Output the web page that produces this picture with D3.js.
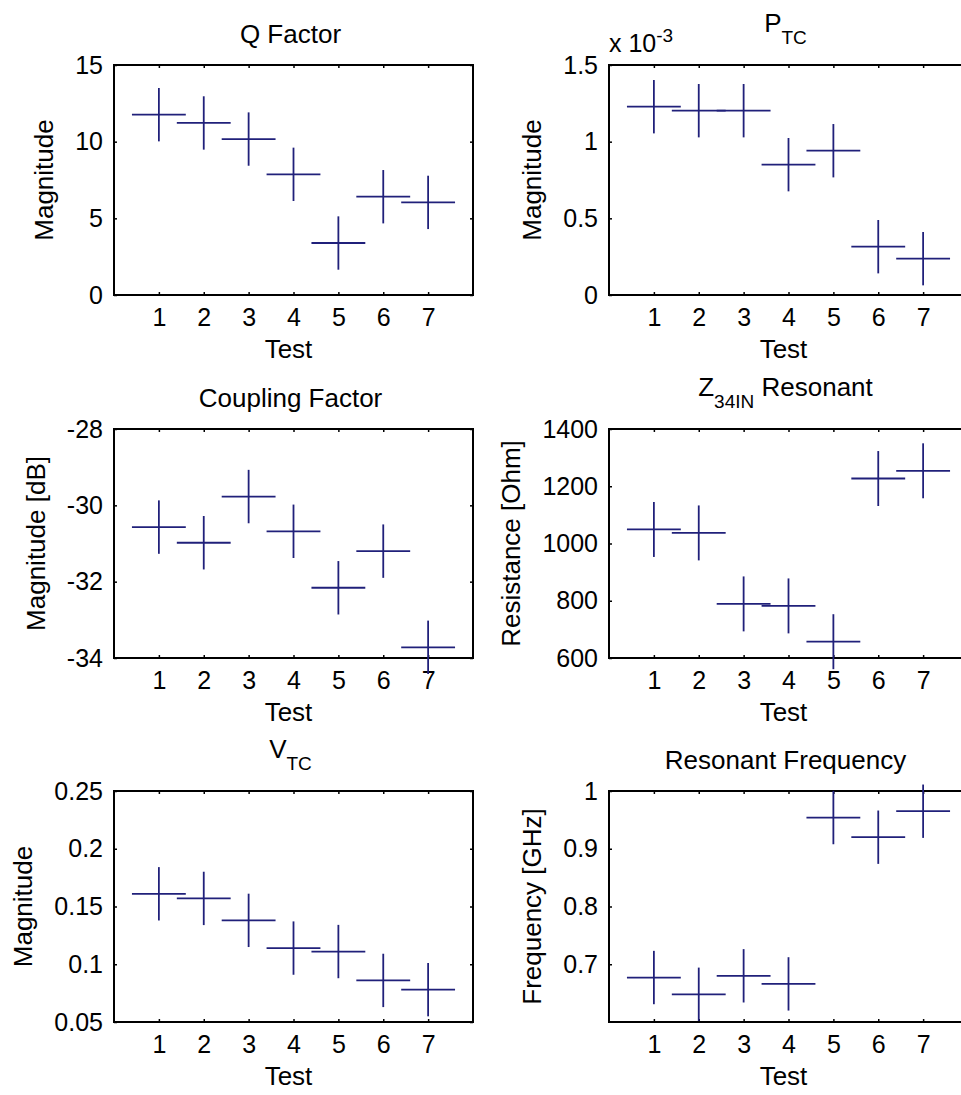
<!DOCTYPE html>
<html>
<head>
<meta charset="utf-8">
<script src="https://cdn.jsdelivr.net/npm/d3@7"></script>
<style>
    body, html {
        margin: 0;
        padding: 0;
        background: #fff;
    }
    text {
        font-family: "Liberation Sans", Arial, sans-serif;
        fill: #000;
    }
</style>
</head>
<body>
<div id="chart"></div>
<script>

// test numbers along x
var tests = [1, 2, 3, 4, 5, 6, 7];
var xErr = 0.6;

// Q Factor
var qFactor = [11.76, 11.22, 10.17, 7.87, 3.39, 6.41, 6.04];
var qErr = 1.74;
var qTicks = [0, 5, 10, 15];

// P_TC (x 10^-3)
var pTC = [1.228e-3, 1.202e-3, 1.202e-3, 0.850e-3, 0.941e-3, 0.315e-3, 0.237e-3];
var pErr = 0.174e-3;
var pTicks = [0, 0.5e-3, 1e-3, 1.5e-3];

// Coupling Factor [dB]
var coupling = [-30.57, -30.98, -29.77, -30.68, -32.16, -31.20, -33.72];
var cErr = 0.70;
var cTicks = [-34, -32, -30, -28];

// Z34IN resonant resistance [Ohm]
var z34in = [1049, 1037, 789, 782, 657, 1227, 1254];
var zErr = 96;
var zTicks = [600, 800, 1000, 1200, 1400];

// V_TC
var vTC = [0.161, 0.157, 0.138, 0.114, 0.111, 0.086, 0.078];
var vErr = 0.0231;
var vTicks = [0.05, 0.1, 0.15, 0.2, 0.25];

// Resonant Frequency [GHz]
var resFreq = [0.677, 0.648, 0.680, 0.666, 0.954, 0.920, 0.965];
var fErr = 0.0462;
var fTicks = [0.7, 0.8, 0.9, 1];

var panels = [
    {col: 0, row: 0, title: "Q Factor", ylabel: "Magnitude", domain: [0, 15], ticks: qTicks, values: qFactor, err: qErr},
    {col: 1, row: 0, title: "P", sub: "TC", ylabel: "Magnitude", domain: [0, 1.5e-3], ticks: pTicks, values: pTC, err: pErr, scale: 1e-3},
    {col: 0, row: 1, title: "Coupling Factor", ylabel: "Magnitude [dB]", domain: [-34, -28], ticks: cTicks, values: coupling, err: cErr},
    {col: 1, row: 1, title: "Z", sub: "34IN", rest: " Resonant", ylabel: "Resistance [Ohm]", domain: [600, 1400], ticks: zTicks, values: z34in, err: zErr},
    {col: 0, row: 2, title: "V", sub: "TC", ylabel: "Magnitude", domain: [0.05, 0.25], ticks: vTicks, values: vTC, err: vErr},
    {col: 1, row: 2, title: "Resonant Frequency", ylabel: "Frequency [GHz]", domain: [0.6, 1], ticks: fTicks, values: resFreq, err: fErr}
];

var W = 961, H = 1095;
var colLeft = [114, 609];
var boxW = 359;
var rowTop = [65, 429, 791];
var rowBottom = [295, 658, 1022];
var lineColor = "#20207a";

var svg = d3.select("#chart")
    .append("svg")
    .attr("width", W)
    .attr("height", H);

panels.forEach(function(p) {
    var left = colLeft[p.col];
    var top = rowTop[p.row];
    var height = rowBottom[p.row] - top;
    var width = boxW;

    var g = svg.append("g")
        .attr("transform", "translate(" + left + "," + top + ")");

    var x = d3.scaleLinear().domain([0, 8]).range([0, width]);
    var y = d3.scaleLinear().domain(p.domain).range([height, 0]);

    var fmt = function(v) {
        var s = p.scale ? v / p.scale : v;
        return String(+s.toFixed(6));
    };

    // axes with inward ticks
    var xb = g.append("g")
        .attr("transform", "translate(0," + height + ")")
        .call(d3.axisBottom(x).tickValues(tests).tickSize(-3).tickPadding(13));
    var xt = g.append("g")
        .call(d3.axisTop(x).tickValues(tests).tickSize(-3).tickFormat(""));
    var yl = g.append("g")
        .call(d3.axisLeft(y).tickValues(p.ticks).tickSize(-3).tickPadding(11).tickFormat(fmt));
    var yr = g.append("g")
        .attr("transform", "translate(" + width + ",0)")
        .call(d3.axisRight(y).tickValues(p.ticks).tickSize(-3).tickFormat(""));

    [xb, xt, yl, yr].forEach(function(a) {
        a.select(".domain").remove();
        a.selectAll(".tick line").attr("stroke", "#000").attr("stroke-width", 1.5);
        a.selectAll("text").attr("font-size", 25).attr("font-family", null).attr("fill", "#000");
    });

    g.append("rect")
        .attr("x", 0)
        .attr("y", 0)
        .attr("width", width)
        .attr("height", height)
        .attr("fill", "none")
        .attr("stroke", "#000")
        .attr("stroke-width", 2);

    // crosses
    var pts = g.append("g")
        .selectAll("g")
        .data(p.values)
        .enter()
        .append("g");

    pts.append("line")
        .attr("x1", function(d, i) { return x(tests[i] - xErr); })
        .attr("x2", function(d, i) { return x(tests[i] + xErr); })
        .attr("y1", function(d) { return y(d); })
        .attr("y2", function(d) { return y(d); })
        .attr("stroke", lineColor)
        .attr("stroke-width", 1.8);

    pts.append("line")
        .attr("x1", function(d, i) { return x(tests[i]); })
        .attr("x2", function(d, i) { return x(tests[i]); })
        .attr("y1", function(d) { return y(d - p.err); })
        .attr("y2", function(d) { return y(d + p.err); })
        .attr("stroke", lineColor)
        .attr("stroke-width", 1.8);

    // title
    var cx = width / 2 - 3;
    if (p.sub) {
        var t = g.append("text")
            .attr("x", cx)
            .attr("y", -33)
            .attr("text-anchor", "middle")
            .attr("font-size", 26);
        t.append("tspan").text(p.title);
        t.append("tspan").attr("dy", 12).attr("font-size", 19).text(p.sub);
        if (p.rest) {
            t.append("tspan").attr("dy", -12).text(p.rest);
        }
    } else {
        g.append("text")
            .attr("x", cx)
            .attr("y", -22)
            .attr("text-anchor", "middle")
            .attr("font-size", 26)
            .text(p.title);
    }

    // exponent label
    if (p.scale) {
        var e = g.append("text")
            .attr("x", 0)
            .attr("y", -13)
            .attr("font-size", 25);
        e.append("tspan").text("x 10");
        e.append("tspan").attr("dy", -10).attr("font-size", 19).text("-3");
    }

    // x label
    g.append("text")
        .attr("x", width / 2 - 5)
        .attr("y", height + 63)
        .attr("text-anchor", "middle")
        .attr("font-size", 26)
        .text("Test");

    // y label placed from widest tick label
    var maxW = 0;
    yl.selectAll("text").each(function() {
        maxW = Math.max(maxW, this.getComputedTextLength());
    });
    var lx = -11 - maxW - 22;
    g.append("text")
        .attr("transform", "translate(" + lx + "," + (height / 2) + ") rotate(-90)")
        .attr("text-anchor", "middle")
        .attr("font-size", 26)
        .text(p.ylabel);
});

</script>
</body>
</html>
